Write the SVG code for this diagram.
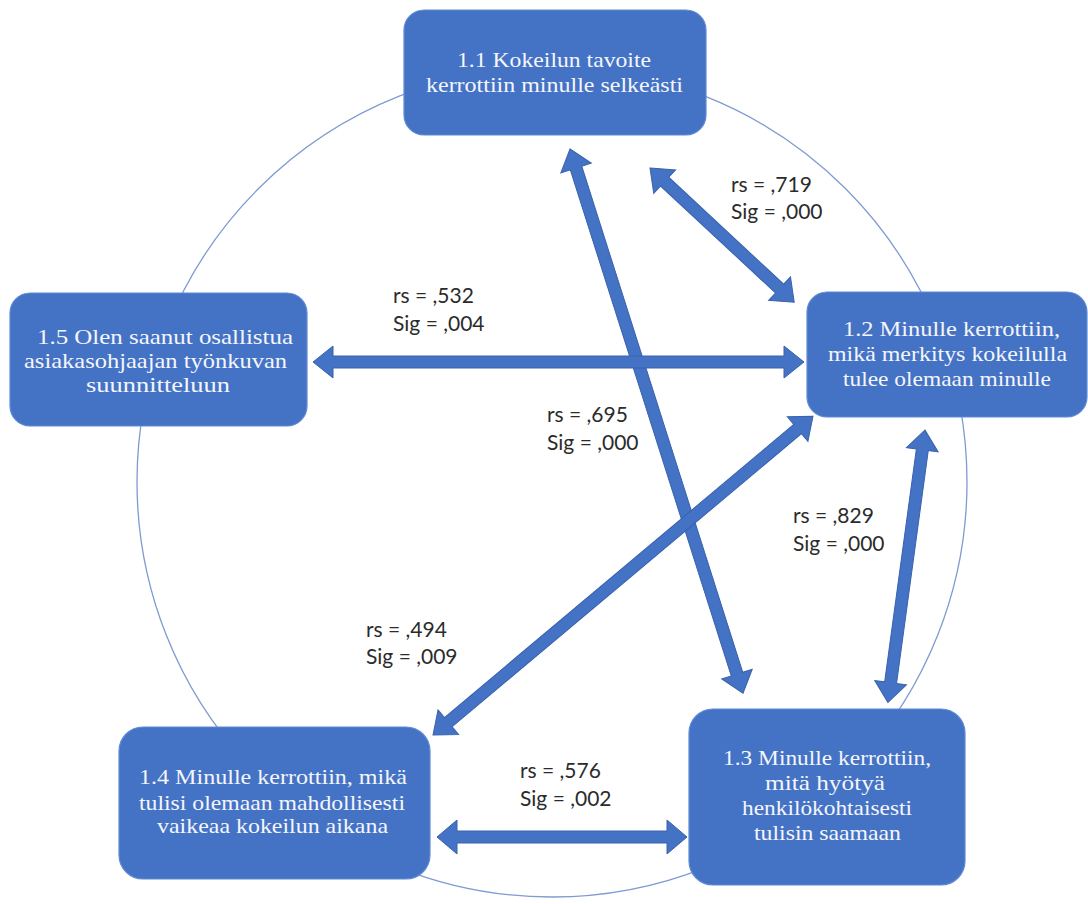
<svg xmlns="http://www.w3.org/2000/svg" width="1088" height="904" viewBox="0 0 1088 904">
  <style>
    .ring { fill: none; stroke: #7F9BD2; stroke-width: 1.3; }
    .box { fill: #4472C4; stroke: #5F8AD4; stroke-width: 1.2; }
    .boxtext { font-family: "Liberation Serif", "DejaVu Serif", serif; font-size: 22px; fill: #F4F6FB; }
    .arrow { fill: #4472C4; stroke: #3A62AC; stroke-width: 1; stroke-linejoin: miter; }
    .stat { font-family: Lato, "Liberation Sans", sans-serif; font-size: 21px; fill: #2B2B2B; }
  </style>

  <rect width="1088" height="904" fill="#FFFFFF"/>

  <!-- background cycle ring -->
  <circle class="ring" cx="552" cy="482" r="415"/>

  <!-- double-headed connectors -->
  <g id="connectors">
    <polygon class="arrow" transform="translate(570,149) rotate(72.36)" points="0,0 20,-16 20,-6 551,-6 551,-16 571,0 551,16 551,6 20,6 20,16"/>
    <polygon class="arrow" transform="translate(313,362)" points="0,0 20,-16 20,-6 471,-6 471,-16 491,0 471,16 471,6 20,6 20,16"/>
    <polygon class="arrow" transform="translate(433,735) rotate(-40.0)" points="0,0 20,-16 20,-6 476,-6 476,-16 496,0 476,16 476,6 20,6 20,16"/>
    <polygon class="arrow" transform="translate(650,168) rotate(42.94)" points="0,0 20,-16 20,-6 177,-6 177,-16 197,0 177,16 177,6 20,6 20,16"/>
    <polygon class="arrow" transform="translate(925,430) rotate(97.75)" points="0,0 20,-16 20,-6 255,-6 255,-16 275,0 255,16 255,6 20,6 20,16"/>
    <polygon class="arrow" transform="translate(437,837)" points="0,0 20,-17 20,-6 230,-6 230,-17 250,0 230,17 230,6 20,6 20,17"/>
  </g>

  <!-- correlation labels -->
  <g id="labels">
    <text class="stat" x="731" y="192">rs = ,719</text>
    <text class="stat" x="731" y="219">Sig = ,000</text>
    <text class="stat" x="393" y="303">rs = ,532</text>
    <text class="stat" x="393" y="331">Sig = ,004</text>
    <text class="stat" x="547" y="422">rs = ,695</text>
    <text class="stat" x="547" y="450">Sig = ,000</text>
    <text class="stat" x="793" y="523">rs = ,829</text>
    <text class="stat" x="793" y="551">Sig = ,000</text>
    <text class="stat" x="366" y="637">rs = ,494</text>
    <text class="stat" x="366" y="664">Sig = ,009</text>
    <text class="stat" x="520" y="778">rs = ,576</text>
    <text class="stat" x="520" y="806">Sig = ,002</text>
  </g>

  <g id="node-1-1">
    <rect class="box" x="404" y="10" width="302" height="125" rx="20"/>
    <text class="boxtext" x="457" y="67" textLength="194" lengthAdjust="spacingAndGlyphs">1.1 Kokeilun tavoite</text>
    <text class="boxtext" x="426" y="92" textLength="257" lengthAdjust="spacingAndGlyphs">kerrottiin minulle selkeästi</text>
  </g>

  <g id="node-1-2">
    <rect class="box" x="807" y="292" width="280" height="125" rx="20"/>
    <text class="boxtext" x="843" y="336" textLength="217" lengthAdjust="spacingAndGlyphs">1.2 Minulle kerrottiin,</text>
    <text class="boxtext" x="828" y="361" textLength="239" lengthAdjust="spacingAndGlyphs">mikä merkitys kokeilulla</text>
    <text class="boxtext" x="843" y="386" textLength="208" lengthAdjust="spacingAndGlyphs">tulee olemaan minulle</text>
  </g>

  <g id="node-1-3">
    <rect class="box" x="689" y="709" width="276" height="176" rx="24"/>
    <text class="boxtext" x="723" y="765" textLength="208" lengthAdjust="spacingAndGlyphs">1.3 Minulle kerrottiin,</text>
    <text class="boxtext" x="765" y="790" textLength="120" lengthAdjust="spacingAndGlyphs">mitä hyötyä</text>
    <text class="boxtext" x="742" y="815" textLength="170" lengthAdjust="spacingAndGlyphs">henkilökohtaisesti</text>
    <text class="boxtext" x="754" y="840" textLength="147" lengthAdjust="spacingAndGlyphs">tulisin saamaan</text>
  </g>

  <g id="node-1-4">
    <rect class="box" x="119" y="727" width="311" height="152" rx="24"/>
    <text class="boxtext" x="139" y="784" textLength="268" lengthAdjust="spacingAndGlyphs">1.4 Minulle kerrottiin, mikä</text>
    <text class="boxtext" x="139" y="810" textLength="266" lengthAdjust="spacingAndGlyphs">tulisi olemaan mahdollisesti</text>
    <text class="boxtext" x="157" y="833" textLength="231" lengthAdjust="spacingAndGlyphs">vaikeaa kokeilun aikana</text>
  </g>

  <g id="node-1-5">
    <rect class="box" x="10" y="293" width="297" height="133" rx="20"/>
    <text class="boxtext" x="37" y="344" textLength="256" lengthAdjust="spacingAndGlyphs">1.5 Olen saanut osallistua</text>
    <text class="boxtext" x="24" y="368" textLength="263" lengthAdjust="spacingAndGlyphs">asiakasohjaajan työnkuvan</text>
    <text class="boxtext" x="86" y="392" textLength="144" lengthAdjust="spacingAndGlyphs">suunnitteluun</text>
  </g>
</svg>
